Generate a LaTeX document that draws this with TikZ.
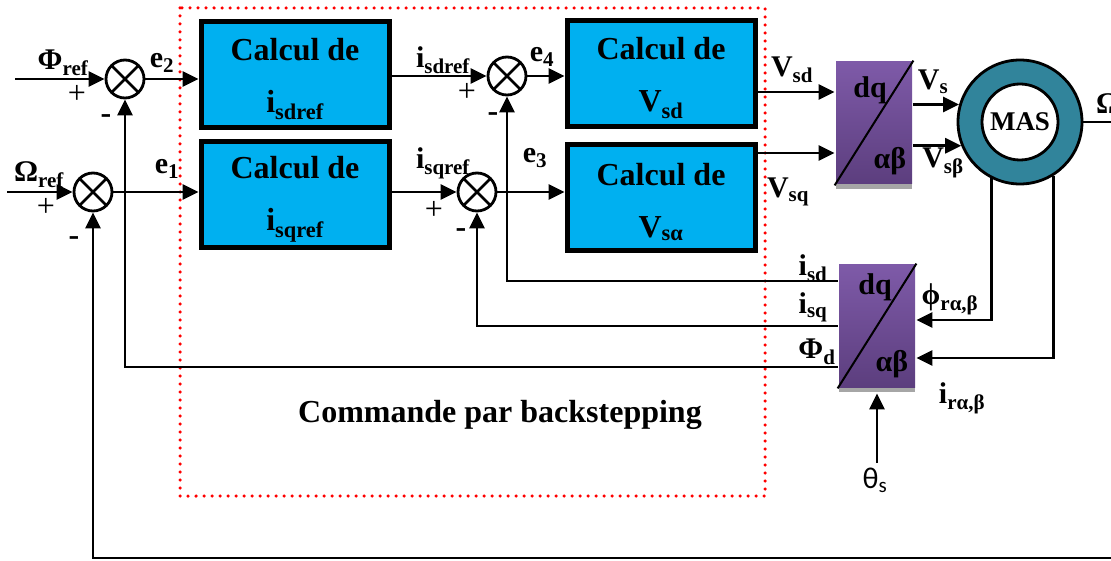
\documentclass[tikz,border=0pt]{standalone}
\usepackage{fontspec}
\setmainfont{Liberation Serif}
\newfontfamily\thetafont{Carlito}
\usetikzlibrary{arrows.meta}
\definecolor{calcblue}{RGB}{0,176,240}
\definecolor{masteal}{RGB}{49,132,155}
\definecolor{dqtop}{RGB}{126,90,168}
\definecolor{dqbot}{RGB}{92,62,126}
\newcommand{\sig}[2]{#1\textsubscript{#2}}
\newcommand{\calc}[2]{\rule{0pt}{30pt}Calcul de\\\sig{#1}{#2}}
\begin{document}
\begin{tikzpicture}[x=1pt,y=-1pt,font=\fontsize{30}{36}\selectfont\bfseries,
  >={Triangle[length=16pt,width=15pt]},line width=2.8pt,
  calcbox/.style={draw,line width=5pt,fill=calcblue,minimum width=188pt,minimum height=106pt,align=center,font=\fontsize{32}{52}\selectfont\bfseries},
  sumnode/.style={circle,draw,minimum size=38pt,inner sep=0pt,path picture={\draw[line width=2.5pt] (path picture bounding box.north west)--(path picture bounding box.south east) (path picture bounding box.north east)--(path picture bounding box.south west);}},
  dqbox/.style={minimum width=76pt,minimum height=122pt,top color=dqtop,bottom color=dqbot,inner sep=0pt},
  sgn/.style={font=\fontsize{32}{32}\selectfont}]
\useasboundingbox (0,0) rectangle (1111,561);
\draw[red,line width=3.5pt,dash pattern=on 0pt off 8pt,line cap=round] (180,8) rectangle (765,496);
\node[sumnode] (s1) at (125,79) {};
\node[sumnode] (s2) at (93,192) {};
\node[sumnode] (s3) at (507,76) {};
\node[sumnode] (s4) at (477,192) {};
\node[calcbox] (bisd) at (295,75) {\calc{i}{sdref}};
\node[calcbox] (bisq) at (295,195) {\calc{i}{sqref}};
\node[calcbox] (bvsd) at (661,74) {\calc{V}{sd}};
\node[calcbox] (bvsq) at (661,198) {\calc{V}{sα}};
\fill[gray!70] (836,184) rectangle (912,189);
\fill[gray!70] (839,387) rectangle (915,392);
\node[dqbox] (dqa) at (874,123) {};
\node[dqbox] (dqb) at (877,326) {};
\draw[line width=2pt] (dqa.south west) -- (dqa.north east);
\draw[line width=2pt] (dqb.south west) -- (dqb.north east);
\node (dqatop) at ([xshift=-4pt,yshift=-30pt]dqa.north) {dq};
\node (dqabot) at ([xshift=16pt,yshift=24pt]dqa.south) {αβ};
\node (dqbtop) at ([xshift=-2pt,yshift=-24pt]dqb.north) {dq};
\node (dqbbot) at ([xshift=15pt,yshift=24pt]dqb.south) {αβ};
\node[circle,draw,fill=masteal,minimum size=124pt,inner sep=0pt] (mas) at (1020,122) {};
\node[circle,draw,fill=white,minimum size=76pt,inner sep=0pt,font=\fontsize{27}{27}\selectfont\bfseries] (masin) at (mas) {MAS};
\coordinate (phiin) at (15,79);
\coordinate (omin) at (7,192);
\coordinate (omout) at (1111,122);
\coordinate (omfb) at (1111,558);
\coordinate (vsdin) at ([yshift=31pt]dqa.west);
\coordinate (vsqin) at ([yshift=-30pt]dqa.west);
\coordinate (phirin) at ([yshift=6pt]dqb.east);
\coordinate (irin) at ([yshift=-32pt]dqb.east);
\draw[->] (phiin) -- (s1);
\draw[->] (omin) -- (s2);
\draw[->] (s1) -- (s1 -| bisd.west);
\draw[->] (s2) -- (s2 -| bisq.west);
\draw[->] (bisd.east |- s3) -- (s3);
\draw[->] (bisq.east |- s4) -- (s4);
\draw[->] (s3) -- (s3 -| bvsd.west);
\draw[->] (s4) -- (s4 -| bvsq.west);
\draw[->] (bvsd.east |- vsdin) -- (vsdin);
\draw[->] (bvsq.east |- vsqin) -- (vsqin);
\draw[->] (dqa.east |- mas.164) -- (mas.164);
\draw[->] (dqa.east |- mas.202) -- (mas.202);
\draw (mas.east) -- (omout);
\draw[->] (mas.243) |- (phirin);
\draw[->] (mas.302) |- (irin);
\draw[->] ([yshift=45pt]dqb.west) -| (s3);
\draw[->] (dqb.west) -| (s4);
\draw[->] ([yshift=-41pt]dqb.west) -| (s1);
\draw[->] (omfb) -| (s2);
\node[font=\fontsize{30}{30}\thetafont] (thetas) at (875,480) {θ\textsubscript{s}};
\draw[->] (thetas.north -| dqb.south) -- ([yshift=-5pt]dqb.south);
\node (lphiref) at (63,63) {\sig{Φ}{ref}};
\node[sgn] (p1) at (77,94) {+};
\node[sgn] (m1) at (106,119) {\bfseries -};
\node (lomref) at (39,175) {\sig{Ω}{ref}};
\node[sgn] (p2) at (46,207) {+};
\node[sgn] (m2) at (74,241) {\bfseries -};
\node (le2) at (162,63) {\sig{e}{2}};
\node (le1) at (167,169) {\sig{e}{1}};
\node (lisdref) at (443,60) {\sig{i}{sdref}};
\node (le4) at (542,57) {\sig{e}{4}};
\node[sgn] (p3) at (467,92) {+};
\node[sgn] (m3) at (493,117) {\bfseries -};
\node (lisqref) at (443,163) {\sig{i}{sqref}};
\node (le3) at (535,158) {\sig{e}{3}};
\node[sgn] (p4) at (434,210) {+};
\node[sgn] (m4) at (461,233) {\bfseries -};
\node (lvsd) at (792,70) {\sig{V}{sd}};
\node (lvsq) at (788,192) {\sig{V}{sq}};
\node (lvs) at (933,82) {\sig{V}{s}};
\node (lvsb) at (943,163) {\sig{V}{sβ}};
\node (lisd) at (813,268) {\sig{i}{sd}};
\node (lisq) at (813,307) {\sig{i}{sq}};
\node (lphid) at (817,352) {\sig{Φ}{d}};
\node (lphir) at (950,299) {\sig{ϕ}{rα,β}};
\node (lir) at (962,398) {\sig{i}{rα,β}};
\node (lom) at (1108,104) {Ω};
\node[font=\fontsize{32}{36}\selectfont\bfseries] (lcmd) at (500,415) {Commande par backstepping};
\end{tikzpicture}
\end{document}
